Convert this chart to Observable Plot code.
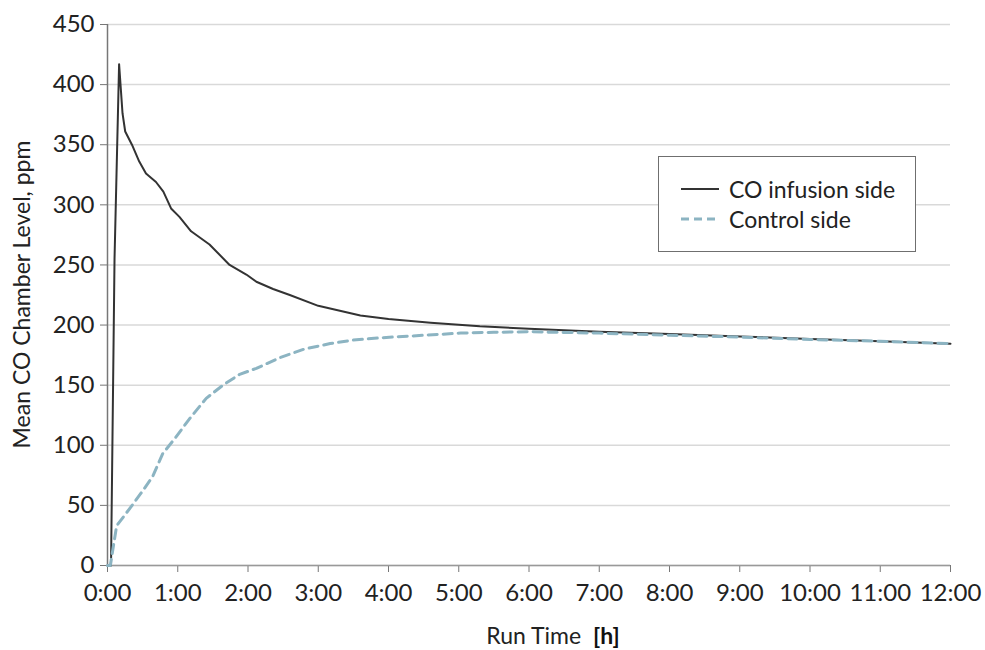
<!DOCTYPE html>
<html>
<head>
<meta charset="utf-8">
<script src="https://cdn.jsdelivr.net/npm/d3@7"></script>
<script src="https://cdn.jsdelivr.net/npm/@observablehq/plot@0.6"></script>
<style>
  html, body { margin: 0; padding: 0; background: #fff; }
  #wrap { position: relative; width: 985px; height: 650px; font-family: Lato, "Open Sans", sans-serif; }
  #legend { position: absolute; left: 658px; top: 156px; width: 256px; height: 94px; border: 1px solid #6f6f6f; background: #fff; }
  .row { position: absolute; left: 0; height: 30px; display: flex; align-items: center; }
  .row svg { margin-left: 22px; margin-right: 10px; }
  .row span { font-size: 23px; color: #222; }
</style>
</head>
<body>
<div id="wrap">
  <div id="chart"></div>
  <div id="legend">
    <div class="row" style="top:17px"><svg width="38" height="6"><line x1="0" x2="38" y1="3" y2="3" stroke="#333" stroke-width="2"/></svg><span>CO infusion side</span></div>
    <div class="row" style="top:47px"><svg width="38" height="6"><line x1="0" x2="38" y1="3" y2="3" stroke="#8cb4c2" stroke-width="2.8" stroke-dasharray="8,5"/></svg><span>Control side</span></div>
  </div>
</div>
<script>
// Run time in hours, CO level in ppm
const infusionTime = [0, 0.05, 0.1, 0.165, 0.214, 0.252, 0.348, 0.452, 0.548, 0.69, 0.795, 0.905, 1.024, 1.19, 1.452, 1.738, 1.976, 2.119, 2.357, 2.595, 3.0, 3.6, 4.0, 4.6, 5.3, 6.0, 7.0, 8.0, 9.0, 10.0, 11.0, 12.0];
const infusionPpm  = [0, 0, 255, 417, 376, 361, 350, 336, 326, 319, 311, 297, 290, 278, 267, 250, 242, 236, 230, 225, 216, 208, 205, 202, 199, 197, 194.5, 192.5, 190.5, 188.5, 186.5, 184.5];

const controlTime = [0, 0.04, 0.13, 0.35, 0.5, 0.643, 0.786, 0.976, 1.167, 1.405, 1.643, 1.881, 2.119, 2.46, 2.8, 3.17, 3.5, 3.89, 4.5, 5.03, 5.5, 6.02, 7, 8, 9, 10, 11, 12];
const controlPpm  = [0, 0, 33, 50, 62, 74, 93, 107, 122, 139, 150, 159, 164, 173, 180, 184.6, 187.5, 189.4, 191.5, 193.3, 194, 194.4, 193.3, 191.5, 190, 188, 186.5, 184.5];

const xTicks = d3.range(0, 13);
const xTickLabels = xTicks.map(h => h + ":00");
const yTicks = d3.range(0, 451, 50);

const infusion = infusionTime.map((t, i) => ({t, v: infusionPpm[i]}));
const control = controlTime.map((t, i) => ({t, v: controlPpm[i]}));

const chart = Plot.plot({
  width: 985,
  height: 650,
  marginTop: 24,
  marginRight: 35,
  marginBottom: 85,
  marginLeft: 107,
  style: {fontFamily: "Lato, 'Open Sans', sans-serif", fontSize: "24px", color: "#222", background: "#fff"},
  x: {domain: [0, 12], label: null},
  y: {domain: [0, 450], label: null},
  marks: [
    Plot.gridY(yTicks, {stroke: "#d9d9d9", strokeOpacity: 1, strokeWidth: 1.5}),
    Plot.axisX(xTicks, {tickSize: 7, tickPadding: 11, stroke: "#777", fontSize: 24, label: null, tickFormat: (d, i) => xTickLabels[i]}),
    Plot.axisY(yTicks, {tickSize: 7, tickPadding: 6, stroke: "#777", fontSize: 24, label: null}),
    Plot.ruleX([0], {stroke: "#777", strokeWidth: 1.5}),
    Plot.ruleY([0], {stroke: "#999", strokeWidth: 1.5}),
    Plot.line(infusion, {x: "t", y: "v", stroke: "#333", strokeWidth: 2}),
    Plot.line(control, {x: "t", y: "v", stroke: "#8cb4c2", strokeWidth: 3, strokeDasharray: "9,6"})
  ]
});
document.getElementById("chart").appendChild(chart);

// Axis titles
const svg = d3.select(chart);
svg.append("text")
  .attr("transform", "translate(30," + ((24 + 565) / 2) + ") rotate(-90)")
  .attr("text-anchor", "middle")
  .attr("font-size", 23)
  .attr("fill", "#222")
  .text("Mean CO Chamber Level, ppm");
const xl = svg.append("text")
  .attr("x", 553).attr("y", 644)
  .attr("text-anchor", "middle")
  .attr("font-size", 23)
  .attr("fill", "#222");
xl.append("tspan").text("Run Time\u00a0\u00a0");
xl.append("tspan").attr("font-weight", "bold").attr("fill", "#111").text("[h]");
</script>
</body>
</html>
